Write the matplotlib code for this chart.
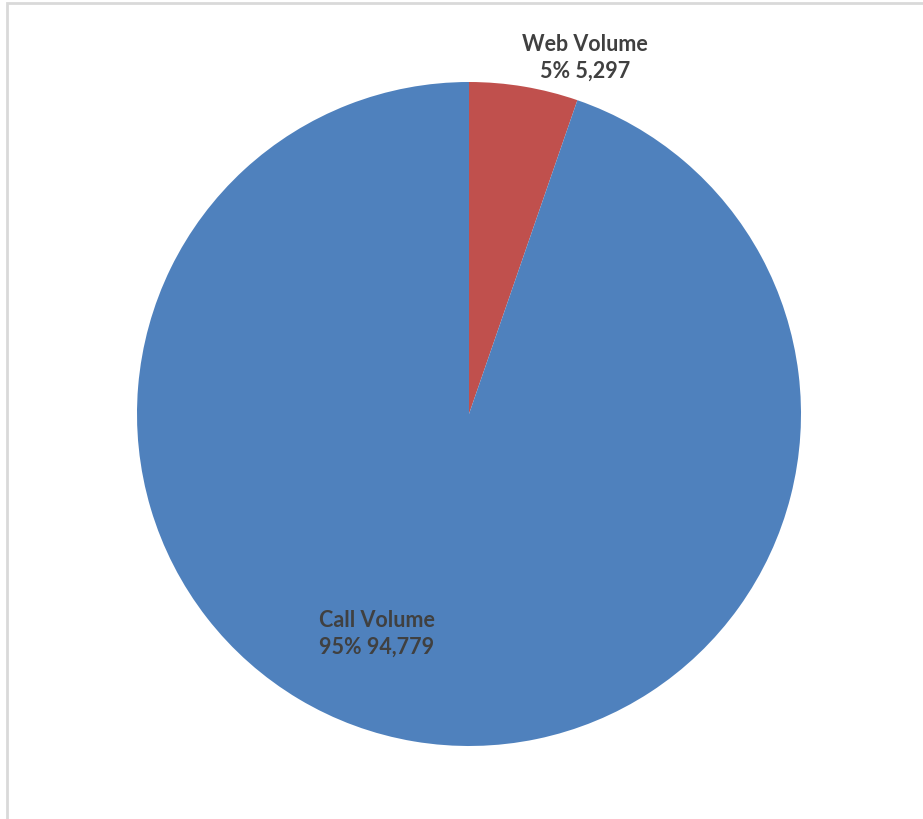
import matplotlib.pyplot as plt
from matplotlib.patches import Rectangle

# data
categories = ['Web Volume', 'Call Volume']
volumes = [5297, 94779]
colors = ['#C0504D', '#4F81BD']

# label anchor points in pixel space (x, y from top)
label_pos = [(585, 58), (377, 634)]

W, H = 923, 820
fig = plt.figure(figsize=(W / 100, H / 100), dpi=100)
ax = fig.add_axes([0, 0, 1, 1])

ax.pie(volumes, colors=colors, startangle=90, counterclock=False,
       center=(469, H - 415), radius=332, frame=True,
       wedgeprops=dict(linewidth=0))
ax.set_xlim(0, W)
ax.set_ylim(0, H)
ax.set_aspect('equal')
ax.axis('off')

total = sum(volumes)
for name, val, (px, py) in zip(categories, volumes, label_pos):
	pct = round(100 * val / total)
	ax.text(px, H - py, f"{name}\n{pct}% {val:,}", ha='center', va='center',
	        fontsize=15.5, fontweight='bold', color='#404040',
	        family=['Lato', 'DejaVu Sans'], linespacing=1.35)

# chart area border (clipped at right and bottom)
ax.add_patch(Rectangle((7, -20), W + 20, H - 4 + 20, fill=False,
                       edgecolor='#D9D9D9', linewidth=2, clip_on=True))

fig.savefig('out.png', dpi=100)
